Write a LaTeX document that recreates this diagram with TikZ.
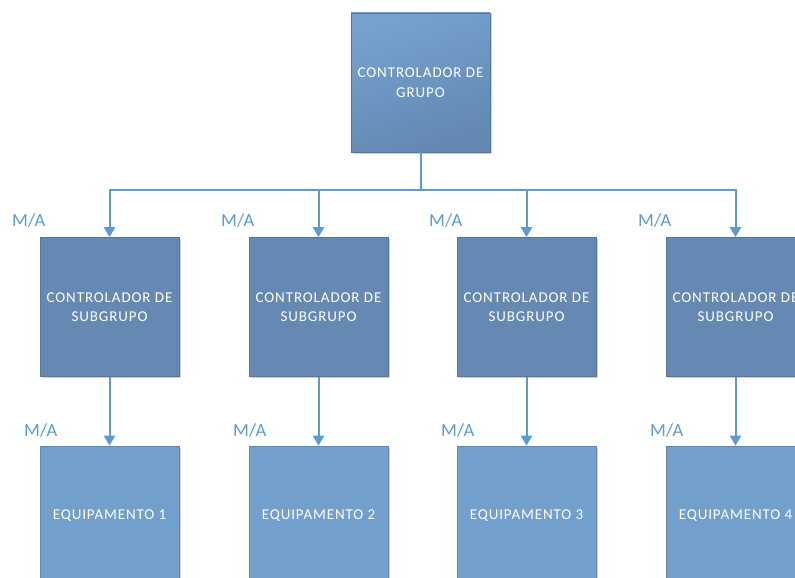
\documentclass[tikz,border=0pt]{standalone}
\usepackage{fontspec}
\setmainfont{Carlito}
\newfontfamily\boxfont[LetterSpace=6]{Carlito}
\usetikzlibrary{arrows.meta,shadows}
\definecolor{linec}{HTML}{5B9BD5}
\definecolor{subc}{HTML}{6589B2}
\definecolor{equc}{HTML}{739FCD}
\definecolor{topa}{HTML}{76A1CF}
\definecolor{topb}{HTML}{6288B2}
\definecolor{edgec}{HTML}{56779C}
\tikzset{
  box/.style={minimum width=139pt, minimum height=139pt, inner sep=0pt, draw=edgec, line width=0.6pt,
    text=white, font=\boxfont\fontsize{15}{19.5}\selectfont, align=center,
    drop shadow={shadow xshift=1.5pt, shadow yshift=-1.5pt, opacity=0.18, fill=black}},
  topbox/.style={box, top color=topa, bottom color=topb, shading angle=20},
  subbox/.style={box, fill=subc},
  equbox/.style={box, fill=equc, draw=equc!85!black},
  conn/.style={draw=linec, line width=2pt},
  arr/.style={conn, -{Triangle[width=11pt,length=10pt]}},
  malabel/.style={text=linec, font=\fontsize{18.5}{20}\selectfont, inner sep=0pt}
}
\begin{document}
\begin{tikzpicture}[x=1pt,y=-1pt]
\useasboundingbox (0,0) rectangle (795,578);
\clip (0,0) rectangle (795,578);
\node[topbox] (top) at (420.5,82.5) {CONTROLADOR DE\\GRUPO};
\node[subbox] (s1) at (109.5,307) {CONTROLADOR DE\\SUBGRUPO};
\node[subbox] (s2) at (318.5,307) {CONTROLADOR DE\\SUBGRUPO};
\node[subbox] (s3) at (526.5,307) {CONTROLADOR DE\\SUBGRUPO};
\node[subbox] (s4) at (735.5,307) {CONTROLADOR DE\\SUBGRUPO};
\node[equbox] (e1) at (109.5,515.5) {EQUIPAMENTO 1};
\node[equbox] (e2) at (318.5,515.5) {EQUIPAMENTO 2};
\node[equbox] (e3) at (526.5,515.5) {EQUIPAMENTO 3};
\node[equbox] (e4) at (735.5,515.5) {EQUIPAMENTO 4};
\coordinate (bus) at (420.5,190);
\draw[conn] (top.south) -- (bus);
\foreach \s in {s1,s2,s3,s4} {
  \draw[arr] (bus) -| (\s.north);
}
\foreach \s/\e in {s1/e1,s2/e2,s3/e3,s4/e4} {
  \draw[arr] (\s.south) -- (\e.north);
  \node[malabel] at ([xshift=-11pt,yshift=17pt]\s.north west) {M/A};
  \node[malabel] at ([xshift=1pt,yshift=15pt]\e.north west) {M/A};
}
\end{tikzpicture}
\end{document}
